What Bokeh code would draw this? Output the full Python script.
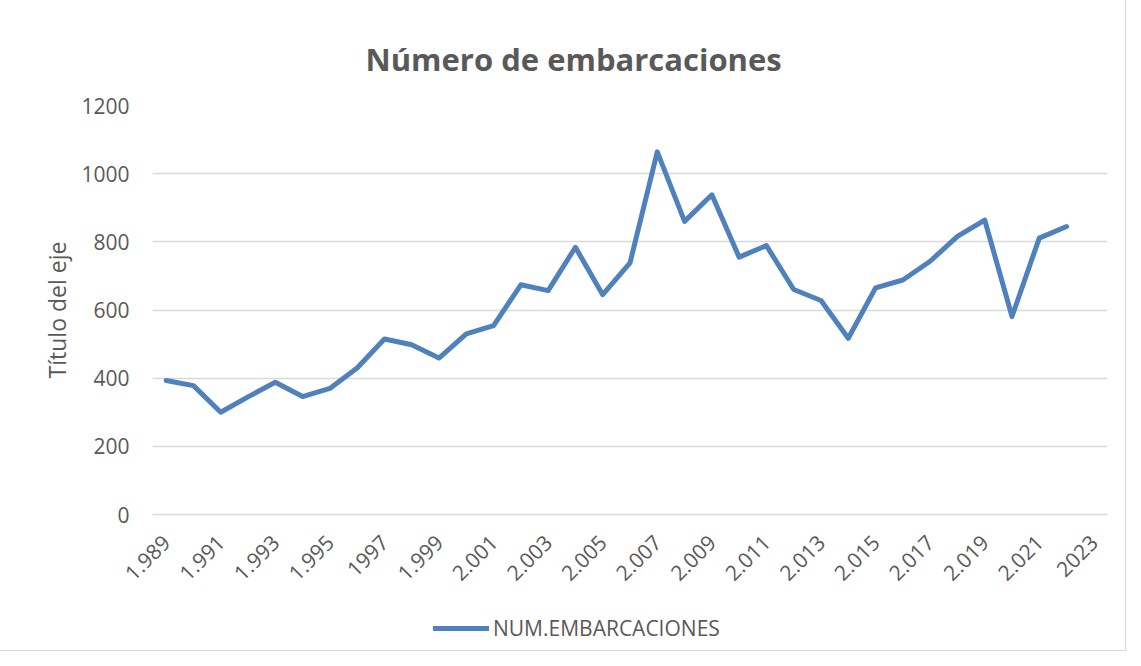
from bokeh.plotting import figure
from bokeh.layouts import column
from bokeh.models import (ColumnDataSource, FixedTicker, Legend, LegendItem,
                          Range1d)
from bokeh.embed import file_html
from bokeh.resources import INLINE

# ---- data ----
years = list(range(1989, 2023))
embarcaciones = [393, 378, 300, 345, 388, 346, 370, 430, 515, 498, 459, 530, 554,
                 674, 657, 784, 645, 738, 1064, 860, 938, 755, 789, 660, 628,
                 517, 665, 688, 743, 816, 864, 581, 811, 845]
tick_years = list(range(1989, 2024, 2))
tick_labels = ["1.989", "1.991", "1.993", "1.995", "1997", "1.999", "2.001",
               "2.003", "2.005", "2.007", "2.009", "2.011", "2.013", "2.015",
               "2.017", "2.019", "2.021", "2023"]
y_ticks = [0, 200, 400, 600, 800, 1000, 1200]
series_name = "NUM.EMBARCACIONES"
title_text = "Número de embarcaciones"
y_title = "Título del eje"

FONT = "Open Sans"
TXT = "#595959"
BLUE = "#4f81bd"
GRID = "#d9d9d9"

src = ColumnDataSource(dict(x=years, y=embarcaciones))

p = figure(width=1125, height=590, output_backend="svg", toolbar_location=None,
           x_range=Range1d(1988.5, 2023.5), y_range=Range1d(0, 1200),
           min_border_left=152, min_border_right=18, min_border_top=105,
           min_border_bottom=76)
p.outline_line_color = None
p.background_fill_color = "white"
p.border_fill_color = "white"

r = p.line("x", "y", source=src, line_color=BLUE, line_width=5,
           line_join="round", line_cap="round")

# title
p.title.text = title_text
p.title.align = "left"
p.title.offset = 213
p.title.standoff = 52
p.title.padding = (0, 0, 4, 0)
p.title.text_font = FONT
p.title.text_font_size = "31px"
p.title.text_font_style = "bold"
p.title.text_color = TXT

# axes
xax = p.xaxis[0]
xax.ticker = FixedTicker(ticks=tick_years)
xax.major_label_overrides = {int(k): v for k, v in zip(tick_years, tick_labels)}
xax.major_label_orientation = 0.785398
xax.major_label_text_font = FONT
xax.major_label_text_font_size = "21px"
xax.major_label_text_color = TXT
xax.major_label_standoff = 18
xax.axis_line_color = GRID
xax.axis_line_width = 1.5
xax.major_tick_line_color = None
xax.minor_tick_line_color = None

yax = p.yaxis[0]
yax.ticker = FixedTicker(ticks=y_ticks)
yax.major_label_text_font = FONT
yax.major_label_text_font_size = "21px"
yax.major_label_text_color = TXT
yax.major_label_standoff = 17
yax.axis_line_color = None
yax.major_tick_line_color = None
yax.minor_tick_line_color = None
yax.axis_label = y_title
yax.axis_label_text_font = FONT
yax.axis_label_text_font_size = "23px"
yax.axis_label_text_font_style = "normal"
yax.axis_label_text_color = TXT
yax.axis_label_standoff = 5

p.xgrid.grid_line_color = None
p.ygrid.grid_line_color = GRID
p.ygrid.grid_line_width = 1.5

# legend strip below the chart (frames are aligned by the column layout)
p2 = figure(width=1125, height=60, output_backend="svg", toolbar_location=None,
            x_range=Range1d(0, 1), y_range=Range1d(0, 1),
            x_axis_location=None, y_axis_location=None,
            min_border_left=0, min_border_right=0, min_border_top=0,
            min_border_bottom=0)
p2.outline_line_color = None
p2.grid.visible = False
p2.background_fill_color = "white"
p2.border_fill_color = "white"
nan = float("nan")
r2 = p2.line(x=[nan], y=[nan], line_color=BLUE, line_width=5, line_cap="round")

legend = Legend(items=[LegendItem(label=series_name, renderers=[r2])],
                location=(281, 8), orientation="horizontal",
                label_text_font=FONT, label_text_font_size="21px",
                label_text_color=TXT, glyph_width=56, glyph_height=20,
                label_standoff=4, padding=0, margin=0,
                border_line_color=None, background_fill_alpha=0)
p2.add_layout(legend, "center")

layout = column(p, p2, spacing=0)
layout.styles = {"outline": "1px solid #d9d9d9"}

open("out.html", "w").write(file_html(layout, INLINE))
